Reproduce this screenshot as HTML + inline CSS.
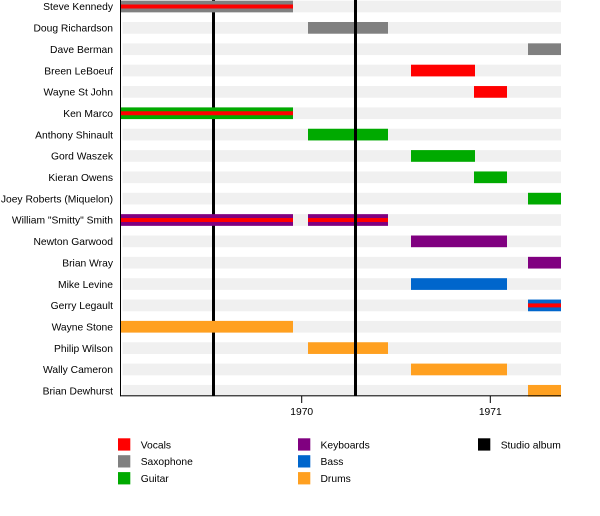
<!DOCTYPE html>
<html><head><meta charset="utf-8"><style>
html,body{margin:0;padding:0;background:#fff;}
svg{display:block;}
text{font-family:"Liberation Sans",Arial,sans-serif;font-size:10.3px;fill:#000;}
</style></head><body>
<svg width="600" height="516" viewBox="0 0 600 516" xmlns="http://www.w3.org/2000/svg">
<g fill="#f0f0f0">
<rect x="122.5" y="0.65" width="438.5" height="11.7"/>
<rect x="122.5" y="22" width="438.5" height="11.7"/>
<rect x="122.5" y="43.35" width="438.5" height="11.7"/>
<rect x="122.5" y="64.7" width="438.5" height="11.7"/>
<rect x="122.5" y="86.05" width="438.5" height="11.7"/>
<rect x="122.5" y="107.4" width="438.5" height="11.7"/>
<rect x="122.5" y="128.75" width="438.5" height="11.7"/>
<rect x="122.5" y="150.1" width="438.5" height="11.7"/>
<rect x="122.5" y="171.45" width="438.5" height="11.7"/>
<rect x="122.5" y="192.8" width="438.5" height="11.7"/>
<rect x="122.5" y="214.15" width="438.5" height="11.7"/>
<rect x="122.5" y="235.5" width="438.5" height="11.7"/>
<rect x="122.5" y="256.85" width="438.5" height="11.7"/>
<rect x="122.5" y="278.2" width="438.5" height="11.7"/>
<rect x="122.5" y="299.55" width="438.5" height="11.7"/>
<rect x="122.5" y="320.9" width="438.5" height="11.7"/>
<rect x="122.5" y="342.25" width="438.5" height="11.7"/>
<rect x="122.5" y="363.6" width="438.5" height="11.7"/>
<rect x="122.5" y="384.95" width="438.5" height="11.7"/>
</g>
<!-- studio album line 1 (behind bars) -->
<rect x="212" y="0" width="3" height="396" fill="#000"/>
<!-- bars -->
<!-- 0 Steve Kennedy -->
<rect x="120.5" y="0.65" width="172.5" height="11.7" fill="#808080"/>
<rect x="120.5" y="4.5" width="172.5" height="4" fill="#ff0000"/>
<!-- 1 Doug -->
<rect x="308" y="22" width="80" height="11.7" fill="#808080"/>
<!-- 2 Dave -->
<rect x="528" y="43.35" width="33" height="11.7" fill="#808080"/>
<!-- 3 Breen -->
<rect x="411" y="64.7" width="64" height="11.7" fill="#ff0000"/>
<!-- 4 Wayne St John -->
<rect x="474" y="86.05" width="33" height="11.7" fill="#ff0000"/>
<!-- 5 Ken Marco -->
<rect x="120.5" y="107.4" width="172.5" height="11.7" fill="#00aa00"/>
<rect x="120.5" y="111.25" width="172.5" height="4" fill="#ff0000"/>
<!-- 6 Anthony -->
<rect x="308" y="128.75" width="80" height="11.7" fill="#00aa00"/>
<!-- 7 Gord -->
<rect x="411" y="150.1" width="64" height="11.7" fill="#00aa00"/>
<!-- 8 Kieran -->
<rect x="474" y="171.45" width="33" height="11.7" fill="#00aa00"/>
<!-- 9 Joey -->
<rect x="528" y="192.8" width="33" height="11.7" fill="#00aa00"/>
<!-- 10 William Smith -->
<rect x="120.5" y="214.15" width="172.5" height="11.7" fill="#800080"/>
<rect x="120.5" y="218" width="172.5" height="4" fill="#ff0000"/>
<rect x="308" y="214.15" width="80" height="11.7" fill="#800080"/>
<rect x="308" y="218" width="80" height="4" fill="#ff0000"/>
<!-- 11 Newton -->
<rect x="411" y="235.5" width="96" height="11.7" fill="#800080"/>
<!-- 12 Brian Wray -->
<rect x="528" y="256.85" width="33" height="11.7" fill="#800080"/>
<!-- 13 Mike Levine -->
<rect x="411" y="278.2" width="96" height="11.7" fill="#0066cc"/>
<!-- 14 Gerry -->
<rect x="528" y="299.55" width="33" height="11.7" fill="#0066cc"/>
<rect x="528" y="303.4" width="33" height="4" fill="#ff0000"/>
<!-- 15 Wayne Stone -->
<rect x="120.5" y="320.9" width="172.5" height="11.7" fill="#ffa020"/>
<!-- 16 Philip -->
<rect x="308" y="342.25" width="80" height="11.7" fill="#ffa020"/>
<!-- 17 Wally -->
<rect x="411" y="363.6" width="96" height="11.7" fill="#ffa020"/>
<!-- 18 Brian Dewhurst -->
<rect x="528" y="384.95" width="33" height="11.7" fill="#ffa020"/>
<!-- studio album line 2 (above bars) -->
<rect x="354" y="0" width="3" height="396" fill="#000"/>
<!-- axes -->
<rect x="120" y="0" width="1" height="396.3" fill="#000"/>
<rect x="120" y="395.3" width="441" height="1" fill="#000"/>
<rect x="301.2" y="396" width="1" height="7" fill="#000"/>
<rect x="489.8" y="396" width="1" height="7" fill="#000"/>
<text x="301.7" y="415" text-anchor="middle">1970</text>
<text x="490.3" y="415" text-anchor="middle">1971</text>
<!-- labels -->
<g text-anchor="end">
<text x="113" y="10.2">Steve Kennedy</text>
<text x="113" y="31.6">Doug Richardson</text>
<text x="113" y="52.9">Dave Berman</text>
<text x="113" y="74.3">Breen LeBoeuf</text>
<text x="113" y="95.6">Wayne St John</text>
<text x="113" y="117">Ken Marco</text>
<text x="113" y="138.3">Anthony Shinault</text>
<text x="113" y="159.7">Gord Waszek</text>
<text x="113" y="181">Kieran Owens</text>
<text x="113" y="202.4">Joey Roberts (Miquelon)</text>
<text x="113" y="223.7">William "Smitty" Smith</text>
<text x="113" y="245.1">Newton Garwood</text>
<text x="113" y="266.4">Brian Wray</text>
<text x="113" y="287.8">Mike Levine</text>
<text x="113" y="309.1">Gerry Legault</text>
<text x="113" y="330.5">Wayne Stone</text>
<text x="113" y="351.8">Philip Wilson</text>
<text x="113" y="373.2">Wally Cameron</text>
<text x="113" y="394.5">Brian Dewhurst</text>
</g>
<!-- legend -->
<rect x="118" y="438.3" width="12.3" height="12.3" fill="#ff0000"/>
<text x="140.7" y="448.3">Vocals</text>
<rect x="118" y="455.2" width="12.3" height="12.3" fill="#808080"/>
<text x="140.7" y="465.2">Saxophone</text>
<rect x="118" y="472.1" width="12.3" height="12.3" fill="#00aa00"/>
<text x="140.7" y="482.1">Guitar</text>
<rect x="298" y="438.3" width="12.3" height="12.3" fill="#800080"/>
<text x="320.5" y="448.3">Keyboards</text>
<rect x="298" y="455.2" width="12.3" height="12.3" fill="#0066cc"/>
<text x="320.5" y="465.2">Bass</text>
<rect x="298" y="472.1" width="12.3" height="12.3" fill="#ffa020"/>
<text x="320.5" y="482.1">Drums</text>
<rect x="478" y="438.3" width="12.3" height="12.3" fill="#000"/>
<text x="500.7" y="448.3">Studio album</text>
</svg>
</body></html>
